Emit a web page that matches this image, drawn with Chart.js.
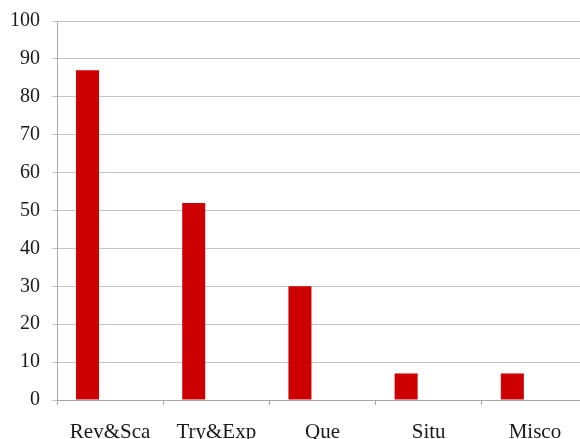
<!DOCTYPE html>
<html>
<head>
<meta charset="utf-8">
<script src="https://cdn.jsdelivr.net/npm/chart.js@4/dist/chart.umd.min.js"></script>
<style>
  html, body { margin: 0; padding: 0; background: #fff; overflow: hidden; }
  #wrap { width: 592px; height: 439px; }
</style>
</head>
<body>
<div id="wrap"><canvas id="c" width="592" height="439"></canvas></div>
<script>
const categories = ['Rev&Sca', 'Try&Exp', 'Que', 'Situ', 'Misco'];
const counts = [87, 52, 30, 7, 7];
const placeholder = [null, null, null, null, null];
const yTicks = [0, 10, 20, 30, 40, 50, 60, 70, 80, 90, 100];

const serif = "'Liberation Serif', 'Times New Roman', serif";

new Chart(document.getElementById('c'), {
  type: 'bar',
  data: {
    labels: categories,
    datasets: [
      { data: counts, backgroundColor: '#cc0000', borderWidth: 0,
        barPercentage: 0.51, categoryPercentage: 0.85 },
      { data: placeholder, backgroundColor: '#cc0000',
        barPercentage: 0.51, categoryPercentage: 0.85 }
    ]
  },
  options: {
    responsive: false,
    animation: false,
    devicePixelRatio: 1,
    layout: { padding: { top: 21, right: 4, left: 0, bottom: 0 } },
    plugins: { legend: { display: false }, tooltip: { enabled: false } },
    scales: {
      x: {
        grid: { offset: true, drawOnChartArea: false, drawTicks: true, tickLength: 5, color: '#a6a6a6' },
        border: { color: '#a6a6a6', width: 1 },
        ticks: { color: '#1a1a1a', font: { family: serif, size: 21 }, padding: 15, maxRotation: 0 },
        afterFit: (s) => { s.height = 39; }
      },
      y: {
        min: 0, max: 100,
        afterBuildTicks: (s) => { s.ticks = yTicks.map(v => ({ value: v })); },
        grid: { color: '#c4c4c4', tickLength: 5, lineWidth: 1 },
        border: { color: '#a6a6a6', width: 1 },
        ticks: { color: '#1a1a1a', font: { family: serif, size: 20 }, padding: 12 },
        afterFit: (s) => { s.width = 57; s.paddingTop = 0; s.paddingBottom = 0; }
      }
    }
  }
});
</script>
</body>
</html>
